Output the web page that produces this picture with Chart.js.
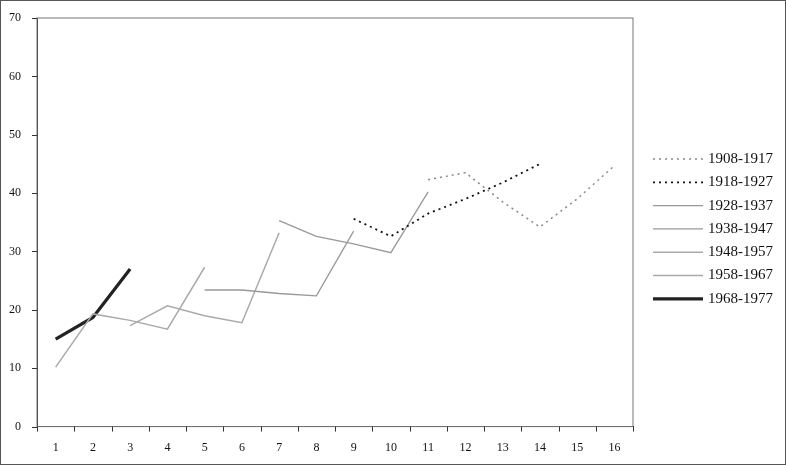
<!DOCTYPE html>
<html><head><script src="https://cdn.jsdelivr.net/npm/chart.js@4"></script>
<style>body{margin:0;background:#fff}#w{width:786px;height:465px;position:relative;box-sizing:border-box;border:1px solid #555}canvas{display:block}</style></head>
<body><div id="w"><canvas id="c" width="784" height="463"></canvas></div>
<script>
const categories=['1','2','3','4','5','6','7','8','9','10','11','12','13','14','15','16'];
const s1908=[null,null,null,null,null,null,null,null,null,null,42.3,43.5,38.5,34.2,39,44.7];
const s1918=[null,null,null,null,null,null,null,null,35.6,32.6,36.5,39,41.8,45,null,null];
const s1928=[null,null,null,null,null,null,35.3,32.6,31.3,29.8,40.2,null,null,null,null,null];
const s1938=[null,null,null,null,23.4,23.4,22.8,22.4,33.5,null,null,null,null,null,null,null];
const s1948=[null,null,17.3,20.7,19,17.8,33.2,null,null,null,null,null,null,null,null,null];
const s1958=[10.2,19.3,18.2,16.7,27.3,null,null,null,null,null,null,null,null,null,null,null];
const s1968=[15,18.7,27,null,null,null,null,null,null,null,null,null,null,null,null,null];
const names=['1908-1917','1918-1927','1928-1937','1938-1947','1948-1957','1958-1967','1968-1977'];
const styles=[
 {c:'#888',w:1.5,d:[2,4]},{c:'#111',w:1.8,d:[2,4]},{c:'#999',w:1.3,d:[]},{c:'#999',w:1.3,d:[]},
 {c:'#aaa',w:1.5,d:[]},{c:'#aaa',w:1.5,d:[]},{c:'#222',w:3.2,d:[]}];
const data=[s1908,s1918,s1928,s1938,s1948,s1958,s1968];
const F="'Liberation Serif', serif";
const legendPlugin={id:'lg',afterDraw(ch){const x=ch.ctx;x.save();
 names.forEach((n,i)=>{const y=158+i*23.3;const s=styles[i];x.strokeStyle=s.c;x.lineWidth=s.w;x.setLineDash(s.d);
 x.beginPath();x.moveTo(652,y);x.lineTo(702,y);x.stroke();x.setLineDash([]);
 x.fillStyle='#111';x.font="15px "+F;x.textBaseline='middle';x.fillText(n,707,y);});
 const a=ch.chartArea;x.strokeStyle='#777';x.lineWidth=1;x.strokeRect(a.left,a.top,a.right-a.left,a.bottom-a.top);
 x.strokeStyle='#333';x.beginPath();
 ch.scales.y.ticks.forEach(t=>{const yy=Math.round(ch.scales.y.getPixelForValue(t.value))+0.5;x.moveTo(a.left-5,yy);x.lineTo(a.left,yy);});
 const step=(a.right-a.left)/categories.length;
 for(let i=0;i<=categories.length;i++){const xx=Math.round(a.left+i*step)+0.5;x.moveTo(xx,a.bottom);x.lineTo(xx,a.bottom+5);}
 x.stroke();x.restore();}};
new Chart(document.getElementById('c'),{type:'line',
 data:{labels:categories,datasets:data.map((d,i)=>({label:names[i],data:d,borderColor:styles[i].c,borderWidth:styles[i].w,borderDash:styles[i].d,pointRadius:0,tension:0,spanGaps:false}))},
 options:{animation:false,responsive:false,devicePixelRatio:1,
  layout:{padding:{left:0,right:152,top:17,bottom:3}},
  plugins:{legend:{display:false},tooltip:{enabled:false}},
  scales:{x:{offset:true,grid:{display:false},border:{color:'#333'},
    ticks:{color:'#111',font:{family:F,size:12},padding:6}},
   y:{min:0,max:70,ticks:{stepSize:10,color:'#111',font:{family:F,size:12},padding:8},
    grid:{display:false},border:{color:'#333'}}}},
 plugins:[legendPlugin]});
</script></body></html>
